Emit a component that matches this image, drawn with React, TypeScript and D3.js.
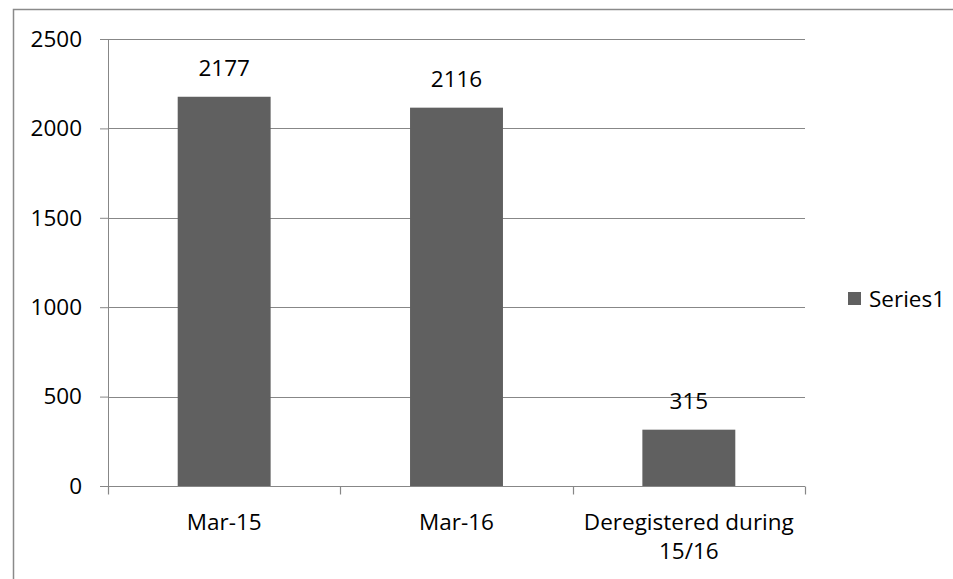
import React, { useEffect, useRef } from "react";
import * as d3 from "d3";

const categories = ["Mar-15", "Mar-16", "Deregistered during 15/16"];
const values = [2177, 2116, 315];
const yTicks = [0, 500, 1000, 1500, 2000, 2500];
const seriesName = "Series1";

const App = () => {
  const ref = useRef<SVGSVGElement>(null);

  useEffect(() => {
    const width = 953;
    const height = 579;
    const margin = { top: 39, left: 108, bottom: 93, right: 148 };
    const font = "'Open Sans', sans-serif";
    const fontSize = 22.5;

    const svg = d3.select(ref.current);
    svg.selectAll("*").remove();

    // outer chart frame
    svg
      .append("rect")
      .attr("x", 13.5)
      .attr("y", 9.5)
      .attr("width", 980)
      .attr("height", 620)
      .attr("fill", "white")
      .attr("stroke", "#8a8a8a")
      .attr("stroke-width", 1.5);

    const x = d3
      .scaleBand()
      .domain(categories)
      .range([margin.left, width - margin.right])
      .paddingInner(0.6)
      .paddingOuter(0.3);

    const y = d3
      .scaleLinear()
      .domain([0, 2500])
      .range([height - margin.bottom, margin.top]);

    const gridColor = "#878787";

    // y ticks + labels
    const yAxis = svg
      .append("g")
      .attr("transform", `translate(${margin.left},0)`)
      .call(
        d3
          .axisLeft(y)
          .tickValues(yTicks)
          .tickFormat(d3.format("d"))
          .tickSize(8)
          .tickPadding(18)
      );
    yAxis.select(".domain").attr("stroke", gridColor);
    yAxis.selectAll(".tick line").attr("stroke", gridColor);
    yAxis
      .selectAll(".tick text")
      .attr("font-family", font)
      .attr("font-size", fontSize)
      .attr("fill", "#000");

    // gridlines
    svg
      .append("g")
      .selectAll("line")
      .data(yTicks.filter((d) => d > 0))
      .enter()
      .append("line")
      .attr("x1", margin.left)
      .attr("x2", width - margin.right)
      .attr("y1", (d) => Math.round(y(d)) + 0.5)
      .attr("y2", (d) => Math.round(y(d)) + 0.5)
      .attr("stroke", gridColor)
      .attr("stroke-width", 1.2);

    // bars
    svg
      .append("g")
      .selectAll("rect")
      .data(values)
      .enter()
      .append("rect")
      .attr("x", (d, i) => x(categories[i])!)
      .attr("y", (d) => y(d))
      .attr("width", x.bandwidth())
      .attr("height", (d) => y(0) - y(d))
      .attr("fill", "#606060");

    // x axis line and ticks at category boundaries
    const y0 = Math.round(y(0)) + 0.5;
    svg
      .append("line")
      .attr("x1", margin.left)
      .attr("x2", width - margin.right)
      .attr("y1", y0)
      .attr("y2", y0)
      .attr("stroke", gridColor)
      .attr("stroke-width", 1.2);

    const step = x.step();
    const bounds = d3.range(categories.length + 1).map(
      (i) => margin.left + i * step
    );
    svg
      .append("g")
      .selectAll("line")
      .data(bounds)
      .enter()
      .append("line")
      .attr("x1", (d) => Math.round(d) + 0.5)
      .attr("x2", (d) => Math.round(d) + 0.5)
      .attr("y1", y0)
      .attr("y2", y0 + 8)
      .attr("stroke", gridColor)
      .attr("stroke-width", 1.2);

    // category labels (wrapped)
    const labelLines = (s: string) =>
      s.startsWith("Deregistered") ? ["Deregistered during", "15/16"] : [s];

    const catText = svg
      .append("g")
      .selectAll("text")
      .data(categories)
      .enter()
      .append("text")
      .attr("text-anchor", "middle")
      .attr("font-family", font)
      .attr("font-size", fontSize)
      .attr("fill", "#000");
    catText.each(function (d) {
      const t = d3.select(this);
      const cx = x(d)! + x.bandwidth() / 2;
      labelLines(d).forEach((line, i) => {
        t.append("tspan")
          .attr("x", cx)
          .attr("y", y0 + 43 + i * 29)
          .text(line);
      });
    });

    // data labels
    svg
      .append("g")
      .selectAll("text")
      .data(values)
      .enter()
      .append("text")
      .text((d) => d)
      .attr("x", (d, i) => x(categories[i])! + x.bandwidth() / 2)
      .attr("y", (d) => y(d) - 21)
      .attr("text-anchor", "middle")
      .attr("font-family", font)
      .attr("font-size", fontSize)
      .attr("fill", "#000");

    // legend
    const legend = svg.append("g").attr("transform", "translate(848,292)");
    legend
      .append("rect")
      .attr("width", 13)
      .attr("height", 13)
      .attr("fill", "#606060");
    legend
      .append("text")
      .attr("x", 21)
      .attr("y", 15)
      .attr("font-family", font)
      .attr("font-size", fontSize)
      .attr("fill", "#000")
      .text(seriesName);
  }, []);

  return (
    <svg
      ref={ref}
      width={953}
      height={579}
      style={{ position: "absolute", left: 0, top: 0, background: "white" }}
    />
  );
};

export default App;
